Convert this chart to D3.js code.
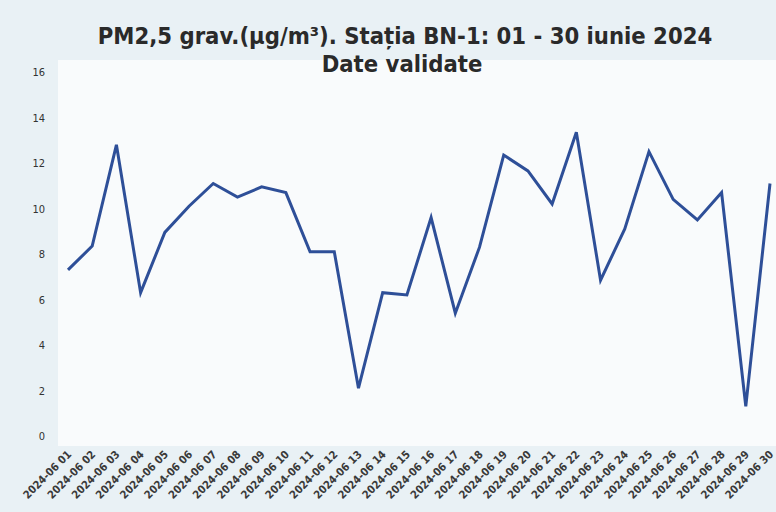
<!DOCTYPE html>
<html lang="ro">
<head>
<meta charset="UTF-8">
<title>PM2,5 BN-1</title>
<script src="https://cdn.jsdelivr.net/npm/d3@7"></script>
<style>
    body { margin: 0; background: #e9f1f5; }
    svg { display: block; }
    .title { font-family: 'DejaVu Sans Condensed', 'DejaVu Sans', sans-serif; font-weight: bold; fill: #2a2a2a; }
    .axis text { font-family: 'DejaVu Sans Condensed', 'DejaVu Sans', sans-serif; fill: #333; }
    .axis path, .axis line { display: none; }
</style>
</head>
<body>
<svg id="chart" width="776" height="512"></svg>
<script>
// zilele lunii iunie 2024
var days = ["2024-06 01","2024-06 02","2024-06 03","2024-06 04","2024-06 05","2024-06 06",
    "2024-06 07","2024-06 08","2024-06 09","2024-06 10","2024-06 11","2024-06 12",
    "2024-06 13","2024-06 14","2024-06 15","2024-06 16","2024-06 17","2024-06 18",
    "2024-06 19","2024-06 20","2024-06 21","2024-06 22","2024-06 23","2024-06 24",
    "2024-06 25","2024-06 26","2024-06 27","2024-06 28","2024-06 29","2024-06 30"];

// PM2,5 gravimetric, ug/m3
var pm25 = [7.3, 8.35, 12.8, 6.3, 8.95, 10.1, 11.1, 10.5, 10.95, 10.7,
    8.1, 8.1, 2.1, 6.3, 6.2, 9.6, 5.4, 8.3, 12.35, 11.65,
    10.2, 13.35, 6.85, 9.1, 12.5, 10.4, 9.5, 10.7, 1.3, 11.1];

var yTicks = [0, 2, 4, 6, 8, 10, 12, 14, 16];

var svg = d3.select("#chart");

var margin = {top: 72, right: 6, bottom: 76, left: 68},
    width = 776 - margin.left - margin.right,
    height = 512 - margin.top - margin.bottom;

// zona graficului (putin mai alba)
svg.append("rect")
    .attr("x", 58).attr("y", 60)
    .attr("width", 718).attr("height", 386)
    .attr("fill", "#f9fbfc");

var g = svg.append("g")
    .attr("transform", "translate(" + margin.left + "," + margin.top + ")");

var x = d3.scalePoint()
    .domain(days)
    .range([0, width]);

var y = d3.scaleLinear()
    .domain([0, 16])
    .range([height, 0]);

g.append("g")
    .attr("class", "axis")
    .call(d3.axisLeft(y).tickValues(yTicks).tickSize(0).tickPadding(0))
    .call(function (s) {
        s.selectAll("text")
            .attr("x", -23)
            .style("font-size", "11px");
    });

g.append("g")
    .attr("class", "axis")
    .attr("transform", "translate(0," + height + ")")
    .call(d3.axisBottom(x).tickSize(0))
    .call(function (s) {
        s.selectAll("text")
            .attr("text-anchor", "end")
            .attr("y", 0)
            .attr("dx", "-11px")
            .attr("dy", "16px")
            .attr("transform", "rotate(-45)")
            .style("font-size", "11px")
            .style("font-weight", "bold")
            .style("fill", "#3a3a3a");
    });

var line = d3.line()
    .x(function (d, i) { return x(days[i]); })
    .y(function (d) { return y(d); });

g.append("path")
    .datum(pm25)
    .attr("fill", "none")
    .attr("stroke", "#2e4f98")
    .attr("stroke-width", 3)
    .attr("stroke-linejoin", "miter")
    .attr("d", line);

svg.append("text")
    .attr("class", "title")
    .attr("x", 405).attr("y", 44)
    .attr("text-anchor", "middle")
    .style("font-size", "23.6px")
    .text("PM2,5 grav.(µg/m³). Stația BN-1: 01 - 30 iunie 2024");

svg.append("text")
    .attr("class", "title")
    .attr("x", 402).attr("y", 72)
    .attr("text-anchor", "middle")
    .style("font-size", "23.6px")
    .text("Date validate");
</script>
</body>
</html>
